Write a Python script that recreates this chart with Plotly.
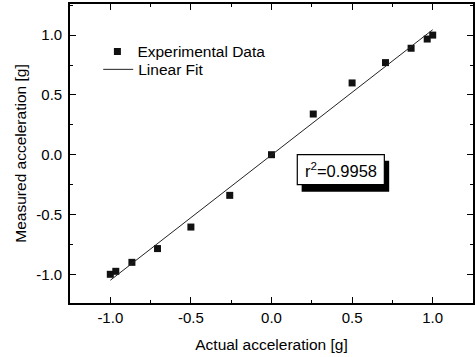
import plotly.graph_objects as go

actual = [-1.0, -0.966, -0.866, -0.707, -0.5, -0.259, 0.0, 0.259, 0.5, 0.707, 0.866, 0.966, 1.0]
measured = [-1.0, -0.975, -0.90, -0.785, -0.605, -0.34, 0.0, 0.34, 0.60, 0.77, 0.89, 0.967, 1.0]
fit_x = [-1.0, 1.0]
fit_y = [-1.05, 1.045]
x_ticks = [-1.0, -0.5, 0.0, 0.5, 1.0]
x_ticklabels = ["-1.0", "-0.5", "0.0", "0.5", "1.0"]
y_ticks = [-1.0, -0.5, 0.0, 0.5, 1.0]
y_ticklabels = ["-1.0", "-0.5", "0.0", "0.5", "1.0"]
r2_text = "r<sup>2</sup>=0.9958"

FONT = "Liberation Sans, Arial, sans-serif"

fig = go.Figure()
fig.add_trace(go.Scatter(x=actual, y=measured, mode="markers", name="Experimental Data",
                         marker=dict(symbol="square", size=7, color="#111"),
                         legend="legend", showlegend=True))
fig.add_trace(go.Scatter(x=fit_x, y=fit_y, mode="lines", name="Linear Fit",
                         line=dict(color="#222", width=1), legend="legend2", showlegend=True))

# r^2 box with drop shadow
fig.add_shape(type="rect", xref="x", yref="y", x0=0.187, x1=0.73, y0=-0.31, y1=-0.05,
              fillcolor="black", line=dict(width=0), layer="above")
fig.add_shape(type="rect", xref="x", yref="y", x0=0.16, x1=0.70, y0=-0.25, y1=0.0,
              fillcolor="white", line=dict(color="black", width=1.2), layer="above")
fig.add_annotation(x=0.43, y=-0.125, xref="x", yref="y", text=r2_text, showarrow=False,
                   font=dict(size=16.5, color="black", family=FONT))

axis_common = dict(showline=True, linecolor="black", linewidth=1.6, mirror="ticks",
                   ticks="inside", ticklen=6, tickwidth=1, tickcolor="black",
                   showgrid=False, zeroline=False, automargin=False,
                   tickfont=dict(size=15, color="black", family=FONT),
                   minor=dict(ticks="inside", ticklen=3, dtick=0.25, tickcolor="black", showgrid=False))

fig.update_xaxes(range=[-1.25, 1.25], tickvals=x_ticks, ticktext=x_ticklabels, ticklabelstandoff=0,
                 title=dict(text="Actual acceleration [g]", font=dict(size=15.5, color="black", family=FONT), standoff=14),
                 **axis_common)
fig.update_yaxes(range=[-1.24, 1.26], tickvals=y_ticks, ticktext=y_ticklabels, ticklabelstandoff=3,
                 title=dict(text="Measured acceleration [g]", font=dict(size=15.5, color="black", family=FONT), standoff=6),
                 **axis_common)

leg_common = dict(xanchor="left", yanchor="middle", bgcolor="rgba(0,0,0,0)", borderwidth=0,
                  font=dict(size=15.5, color="black", family=FONT), itemwidth=30, visible=True)
fig.update_layout(width=475, height=357, margin=dict(l=70, r=2, t=4, b=54),
                  paper_bgcolor="white", plot_bgcolor="white", showlegend=True,
                  font=dict(family=FONT, color="black"),
                  legend=dict(x=0.068, y=0.84, **leg_common),
                  legend2=dict(x=0.07, y=0.78, **leg_common))

fig.write_html("out.html", config={"displayModeBar": False},
               post_script="document.body.style.margin='0';")
